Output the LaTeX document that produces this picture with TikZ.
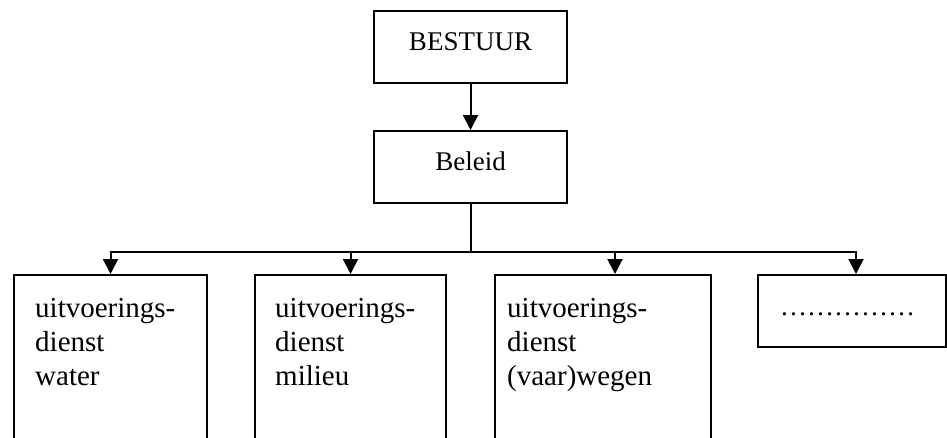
\documentclass[tikz,border=0pt]{standalone}
\usepackage{fontspec}
\setmainfont{Liberation Serif}
\usetikzlibrary{arrows.meta}
\begin{document}
\begin{tikzpicture}[x=1pt,y=-1pt,
  box/.style={draw, line width=2pt, inner sep=0pt},
  conn/.style={line width=2pt},
  arr/.style={conn, -{Triangle[length=15pt,width=15pt]}},
  lbl/.style={inner sep=0pt, font=\fontsize{27}{34}\selectfont},
]
\useasboundingbox (0,0) rectangle (947,437);
\clip (0,0) rectangle (947,437);
% boxes
\node[box, minimum width=193pt, minimum height=72pt] (bestuur) at (470.5,47) {};
\node[box, minimum width=193pt, minimum height=72pt] (beleid) at (470.5,167) {};
\node[box, minimum width=193pt, minimum height=195pt] (w1) at (110.5,372.5) {};
\node[box, minimum width=191pt, minimum height=195pt] (w2) at (350.5,372.5) {};
\node[box, minimum width=216pt, minimum height=195pt] (w3) at (603,372.5) {};
\node[box, minimum width=188pt, minimum height=72pt] (w4) at (852,311) {};
% texts
\node[lbl, anchor=base] (tb) at (470.5,50) {BESTUUR};
\node[lbl, anchor=base] (tl) at (470.5,170) {Beleid};
\node[lbl, anchor=base west] (t1) at (35,317) {\parbox[t]{170pt}{\fontsize{29}{34}\selectfont uitvoerings-\\dienst\\water}};
\node[lbl, anchor=base west] (t2) at (275,317) {\parbox[t]{170pt}{\fontsize{29}{34}\selectfont uitvoerings-\\dienst\\milieu}};
\node[lbl, anchor=base west] (t3) at (507,317) {\parbox[t]{200pt}{\fontsize{29}{34}\selectfont uitvoerings-\\dienst\\(vaar)wegen}};
\node[lbl, anchor=base west] (t4) at (780,315) {\dots\dots\dots\dots\dots};
% connectors
\coordinate (bus) at (470.5,252);
\draw[arr] (bestuur) -- (beleid);
\draw[conn] (beleid.south) -- (bus);
\draw[arr] (bus) -| (w1.north);
\draw[arr] (bus) -| (w2.north);
\draw[arr] (bus) -| ([xshift=12pt]w3.north);
\draw[arr] (bus) -| ([xshift=4pt]w4.north);
\end{tikzpicture}
\end{document}
